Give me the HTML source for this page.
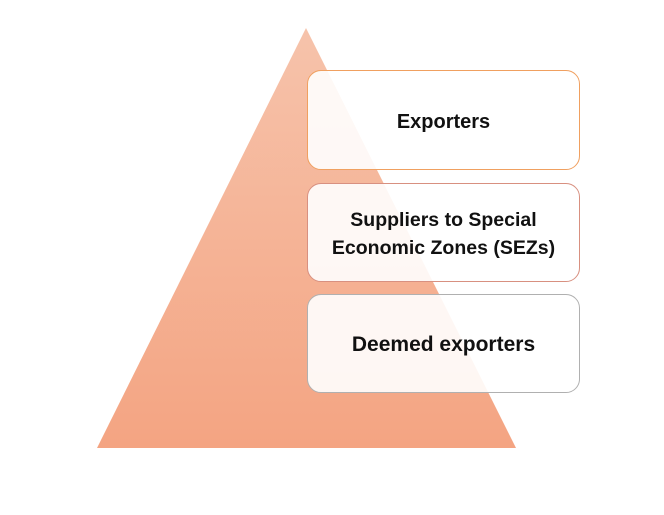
<!DOCTYPE html>
<html><head><style>
body{margin:0;width:664px;height:515px;background:#fff;position:relative;overflow:hidden;font-family:"Liberation Sans",sans-serif}
.b{position:absolute;left:307px;width:271px;border:1px solid;border-radius:14px;background:rgba(255,255,255,0.9);display:flex;align-items:center;justify-content:center;text-align:center;font-weight:bold;font-size:20px;line-height:28px;color:#111;box-sizing:content-box;padding-top:3px}
</style></head><body>
<svg width="664" height="515" style="position:absolute;left:0;top:0">
<defs><linearGradient id="g" x1="0" y1="0" x2="0" y2="1">
<stop offset="0" stop-color="#f6c3ab"/><stop offset="1" stop-color="#f4a482"/></linearGradient></defs>
<polygon points="306,28 516,448 97,448" fill="url(#g)"/>
</svg>
<div class="b" style="top:70px;height:95px;border-color:#f0a060">Exporters</div>
<div class="b" style="top:183px;height:94px;border-color:#d89080;font-size:19.5px">Suppliers to Special<br>Economic Zones (SEZs)</div>
<div class="b" style="top:294px;height:94px;border-color:#b0b0b0;font-size:21px">Deemed exporters</div>
</body></html>
